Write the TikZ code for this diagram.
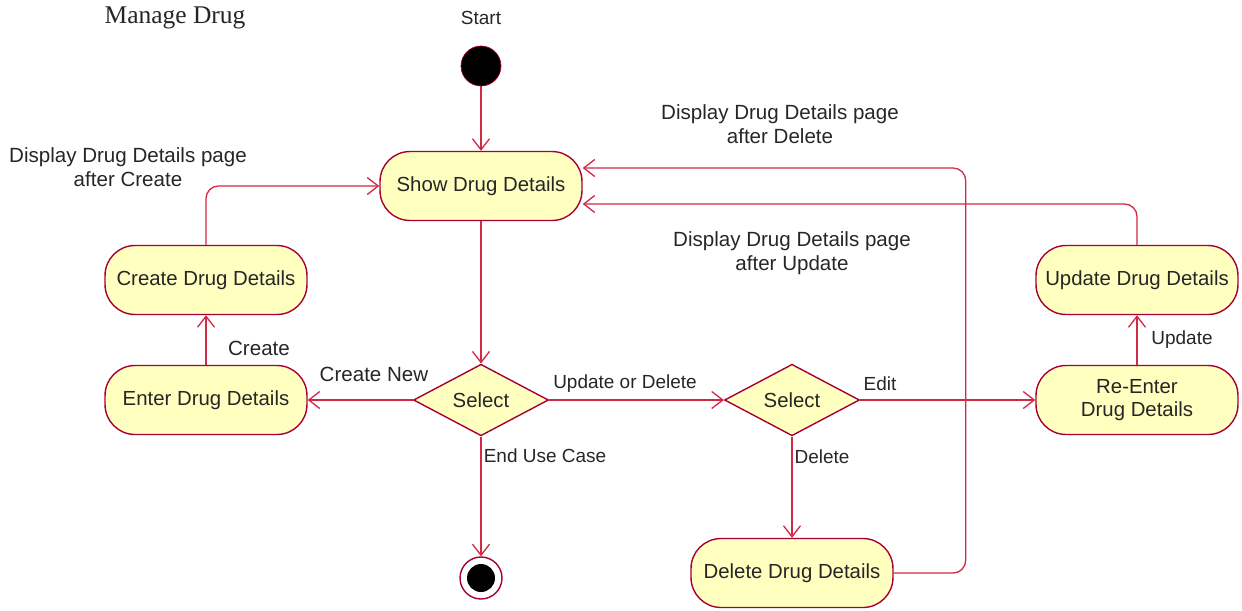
\documentclass[tikz,border=0pt]{standalone}
\usepackage{fontspec}
\setmainfont{Liberation Sans}
\newfontfamily\titlefont{Liberation Serif}
\usetikzlibrary{arrows.meta,positioning,shapes.geometric}
\definecolor{actfill}{HTML}{FFFFC0}
\definecolor{actline}{HTML}{A80036}
\definecolor{flowline}{HTML}{D02A45}
\tikzset{act/.style={draw=actline,line width=0.8pt,rounded corners=0.6cm,fill=actfill,align=center,minimum width=4.04cm,minimum height=1.38cm,font=\fontsize{11.6}{13.5}\selectfont,text=black!85,inner sep=2pt},dec/.style={draw=actline,line width=0.8pt,diamond,fill=actfill,minimum width=2.7cm,minimum height=1.36cm,inner sep=0pt,text=black!85,font=\fontsize{11.6}{13.5}\selectfont},flow/.style={-{Straight Barb[length=2.2mm,width=3.4mm]},draw=flowline,line width=0.75pt},lab/.style={font=\fontsize{10.8}{13.6}\selectfont,align=center,text=black!85,inner sep=1pt},biglab/.style={lab,font=\fontsize{11.7}{13.6}\selectfont}}
\begin{document}
\begin{tikzpicture}[x=0.02cm,y=-0.02cm]
\path[use as bounding box] (0,0) rectangle (1242,610);
\node[font=\titlefont\fontsize{14.5}{16}\selectfont,text=black!85] (title) at (175,18) {Manage Drug};
\node[lab] (startlab) at (481,18) {Start};
\node[circle,fill=black,draw=actline,minimum size=0.8cm,inner sep=0pt] (start) at (481,66) {};
\node[act] (show) at (481,186) {Show Drug Details};
\node[act] (cre) at (206,280) {Create Drug Details};
\node[act] (ent) at (206,400) {Enter Drug Details};
\node[dec] (sel1) at (481,400) {Select};
\node[dec] (sel2) at (792,400) {Select};
\node[act] (reent) at (1137,400) {Re-Enter\\Drug Details};
\node[act] (upd) at (1137,280) {Update Drug Details};
\node[act] (del) at (792,573) {Delete Drug Details};
\node[circle,draw=actline,line width=0.8pt,fill=white,minimum size=0.84cm,inner sep=0pt] (fin) at (481,578) {};
\node[circle,fill=black,minimum size=0.56cm,inner sep=0pt] at (fin) {};
\draw[flow] (start)--(show);
\draw[flow] (show)--(sel1);
\draw[flow] (sel1)--(ent);
\draw[flow] (ent)--(cre);
\draw[flow,rounded corners=0.25cm] (cre.north) |- (show.west);
\draw[flow] (sel1)--(sel2);
\draw[flow] (sel1.south)--(fin.north);
\draw[flow] (sel2)--(reent);
\draw[flow] (sel2)--(del);
\draw[flow] (reent)--(upd);
\draw[flow,rounded corners=0.25cm] (upd.north) |- ([yshift=-0.36cm]show.east);
\draw[flow,rounded corners=0.25cm] (del.east) -- ++(72,0) |- ([yshift=0.36cm]show.east);
\node[biglab] at (128,167) {Display Drug Details page\\after Create};
\node[biglab] at (780,124) {Display Drug Details page\\after Delete};
\node[biglab] at (792,253) {Display Drug Details page\\after Update};
\node[biglab] at (374,374) {Create New};
\node[biglab] at (259,348) {Create};
\node[lab] at (625,384) {Update or Delete};
\node[lab] at (545,456) {End Use Case};
\node[lab] at (880,384) {Edit};
\node[lab] at (822,457) {Delete};
\node[lab] at (1182,340) {Update};
\end{tikzpicture}
\end{document}
